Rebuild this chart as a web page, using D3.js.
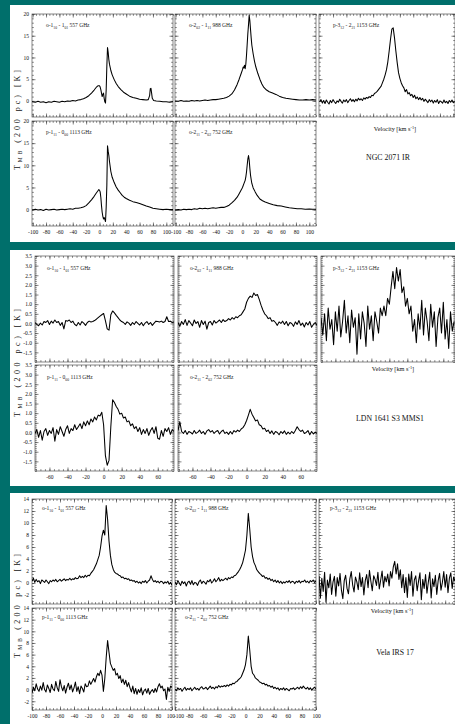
<!DOCTYPE html>
<html><head><meta charset="utf-8">
<script src="https://cdn.jsdelivr.net/npm/d3@7"></script>
<style>body{margin:0;background:#006f6b;overflow:hidden}svg{display:block}</style>
</head><body>
<svg id="c" width="455" height="724"></svg>
<script>
// ---------------- DATA ----------------
const objects = ["NGC 2071 IR", "LDN 1641 S3 MMS1", "Vela IRS 17"];
const transitions = ["o-1_{10} - 1_{01} 557 GHz", "o-2_{02} - 1_{11} 988 GHz", "p-3_{12} - 2_{21} 1153 GHz",
                     "p-1_{11} - 0_{00} 1113 GHz", "o-2_{11} - 2_{02} 752 GHz"];
const yTitle = "T_{MB} (200 pc) [K]";
const xTitle = "Velocity [km s^{-1}]";

const xTicksNGC = [-100,-80,-60,-40,-20,0,20,40,60,80,100];
const yTicksNGC = [0,5,10,15,20];
const xTicksLDN = [-60,-40,-20,0,20,40,60];
const yTicksLDN = [-1.5,-1.0,-0.5,0.0,0.5,1.0,1.5,2.0,2.5,3.0,3.5];
const xTicksVela = [-100,-80,-60,-40,-20,0,20,40,60,80,100];
const yTicksVela = [-2,0,2,4,6,8,10,12,14];

// NGC 2071 IR : [velocity, T] pairs
const ngc557 = [[-101,-0.2],[-96,-0.3],[-92,-0.1],[-88,-0.3],[-84,-0.2],[-80,-0.4],[-76,-0.2],[-72,-0.3],[-68,-0.1],[-64,-0.2],[-60,-0.3],[-56,-0.1],[-52,-0.2],[-48,0],[-44,-0.1],[-40,0.1],[-36,0],[-32,0.2],[-28,0.3],[-24,0.5],[-20,0.8],[-16,1.2],[-12,1.8],[-8,2.5],[-5,3.1],[-2,3.5],[0,3.5],[1,3.2],[2,2.6],[3,1.8],[4,1.0],[5,1.5],[6,1.8],[7,0.6],[8,-0.2],[9,-0.5],[10,2.5],[11,8],[12,12.3],[13,11.2],[14,9.5],[15,8.4],[17,7.0],[19,6.0],[22,4.9],[25,4.0],[28,3.3],[32,2.6],[36,2.0],[40,1.6],[45,1.1],[50,0.8],[55,0.6],[60,0.4],[65,0.3],[70,0.2],[73,0.3],[75,1.2],[76,2.8],[77,2.9],[78,1.8],[79,0.6],[81,0.1],[85,0],[90,-0.1],[95,-0.2],[100,-0.2],[105,-0.3],[110,-0.2]];
const ngc988 = [[-101,0],[-96,-0.1],[-92,0.1],[-88,-0.1],[-84,0],[-80,-0.1],[-76,0.1],[-72,0],[-68,0.1],[-64,0],[-60,0.1],[-56,0.2],[-52,0.1],[-48,0.2],[-44,0.3],[-40,0.3],[-36,0.4],[-32,0.5],[-28,0.6],[-24,0.8],[-20,1.1],[-16,1.6],[-12,2.5],[-8,3.8],[-5,5.0],[-2,6.3],[0,7.2],[1,7.8],[2,7.6],[3,8.2],[4,7.4],[5,8.5],[6,10.5],[7,13],[8,15.5],[9,17.5],[10,19.7],[11,18.5],[12,16.5],[13,14.5],[14,12.8],[16,10.8],[18,9.1],[20,7.8],[23,6.3],[26,5.0],[29,3.9],[32,3.1],[36,2.5],[40,2.1],[45,1.8],[50,1.5],[55,1.1],[60,0.8],[65,0.6],[70,0.5],[75,0.4],[80,0.3],[85,0.2],[90,0.2],[95,0.3],[100,0.2],[105,0.3],[110,0.2]];
const ngc1113 = [[-101,-0.1],[-96,0.1],[-92,-0.1],[-88,0],[-84,-0.2],[-80,0.1],[-76,-0.1],[-72,0],[-68,0.1],[-64,-0.1],[-60,0],[-56,0.1],[-52,0],[-48,0.1],[-44,0.2],[-40,0.1],[-36,0.3],[-32,0.3],[-28,0.4],[-24,0.6],[-20,0.9],[-16,1.5],[-12,2.2],[-8,3.0],[-5,3.7],[-2,4.3],[-1,4.5],[0,4.4],[1,4.0],[2,2.8],[3,0.9],[4,-0.6],[5,-1.5],[6,-2.1],[7,-1.8],[8,-2.2],[9,-2.7],[10,0.5],[11,5.5],[12,14.4],[13,13.2],[14,12.2],[15,10.8],[17,8.6],[19,7.3],[22,6.1],[25,5.1],[28,4.4],[31,3.8],[34,3.2],[37,2.8],[40,2.5],[45,2.1],[50,1.8],[55,1.6],[60,1.4],[65,1.1],[70,0.8],[75,0.6],[80,0.3],[85,0.2],[90,0.1],[95,0],[100,0.1],[105,0],[110,0]];
const ngc752 = [[-101,-0.1],[-96,0],[-92,-0.1],[-88,0.1],[-84,0],[-80,0.1],[-76,0],[-72,0.2],[-68,0.1],[-64,0.3],[-60,0.2],[-56,0.3],[-52,0.2],[-48,0.3],[-44,0.4],[-40,0.3],[-36,0.4],[-32,0.5],[-28,0.5],[-24,0.7],[-20,1.0],[-16,1.5],[-12,2.1],[-8,2.8],[-5,3.6],[-2,4.4],[0,5.0],[2,5.8],[4,6.6],[5,7.4],[6,8.5],[7,10.0],[8,11.4],[9,12.2],[10,11.2],[11,9.3],[12,7.8],[13,6.8],[14,5.9],[16,4.9],[19,4.0],[22,3.2],[26,2.4],[30,2.0],[34,1.7],[40,1.4],[46,1.1],[52,0.9],[58,0.8],[64,0.6],[70,0.4],[76,0.3],[82,0.2],[88,0.2],[94,0.1],[100,0.15],[105,0.1],[110,0.1]];
// NGC 2071 IR 1153 GHz : channels from -100 km/s, 2 km/s wide
const ngc1153Start = -100, ngc1153Width = 2;
const ngc1153 = [-0.2,0.3,-0.5,0.1,-0.6,0.2,-0.3,-0.7,0.1,-0.4,0.3,-0.2,-0.6,0.0,-0.3,0.4,-0.1,-0.5,0.2,-0.2,0.3,-0.4,0.1,0.5,-0.1,0.3,-0.2,0.4,0.0,0.6,0.2,0.5,0.1,0.7,0.4,0.8,
  0.6,1.0,0.8,1.3,1.2,1.7,1.9,2.2,2.6,3.0,3.4,4.2,
  5.0,6.0,7.2,9.0,11.5,14.2,16.5,16.8,14.5,11.5,8.8,6.5,5.2,
  4.2,3.5,3.0,2.1,2.6,1.6,1.9,1.2,1.5,0.8,1.3,0.5,0.9,0.3,0.8,0.2,0.6,-0.1,0.4,0.0,-0.4,0.3,-0.2,0.2,-0.5,0.1,-0.3,0.3,-0.6,0.0,-0.2,-0.5,0.2,-0.4,-0.1,-0.6,0.1,-0.3,0.2,-0.4,-0.2];

// LDN 1641 S3 MMS1 : channels from -76 km/s, 2 km/s wide
const ldnStart = -76, ldnWidth = 2;
const ldn557 = [0.05,-0.05,-0.12,0.02,-0.08,0.10,0.05,0.15,-0.05,0.12,0.02,0.18,0.05,0.10,-0.10,0.05,-0.28,0.15,0.12,0.18,0.05,0.12,-0.05,-0.12,0.05,-0.08,0.10,0.02,-0.10,0.05,0.12,0.08,
  0.10,0.15,0.22,0.30,0.38,0.45,0.52,0.15,-0.28,-0.35,0.45,0.65,0.55,0.42,0.30,0.18,0.10,
  0.05,-0.05,0.08,0.02,-0.10,0.05,-0.05,0.10,0.00,-0.08,0.05,-0.12,0.02,0.10,-0.05,0.05,-0.10,0.02,0.12,0.10,0.08,0.12,0.05,0.10,0.35,0.10,0.12,0.05,0.08];
const ldn988 = [0.05,-0.15,0.10,-0.05,0.20,-0.10,0.15,0.02,-0.12,0.18,0.00,0.10,-0.20,0.15,-0.05,0.12,-0.30,0.05,0.10,-0.08,0.15,0.02,0.10,0.18,0.05,0.20,0.10,
  0.15,0.25,0.18,0.30,0.22,0.35,0.30,0.40,0.45,0.60,0.75,1.10,1.30,1.42,1.35,1.58,1.45,1.50,1.25,0.95,0.70,0.50,0.40,0.25,0.30,0.12,0.15,
  0.05,-0.10,0.08,0.00,0.12,-0.05,0.10,-0.12,0.05,0.00,-0.15,0.08,-0.05,0.15,-0.10,0.02,-0.18,0.05,-0.08,0.10,-0.20,-0.05,0.05,-0.10];
const ldn1153 = [0.3,-0.6,0.5,-0.9,0.8,-0.3,0.2,-1.1,0.6,-0.4,0.9,-0.7,0.1,1.2,-0.5,0.4,-1.0,0.7,-0.2,0.3,-1.6,0.5,-0.8,0.6,0.0,-1.2,0.9,-0.3,0.4,-0.9,0.6,0.1,-0.5,0.8,0.4,
  0.9,0.4,1.3,1.0,1.9,2.7,1.8,2.9,2.2,2.8,1.6,1.9,0.9,1.3,0.5,
  0.9,-0.4,0.2,-1.0,0.5,-0.3,1.2,-0.6,0.8,0.1,-0.9,1.0,-0.2,0.6,-1.2,0.3,0.8,-0.5,1.1,-0.8,0.2,-1.3,0.6,-0.4,0.1];
const ldn1113 = [-0.05,0.15,-0.25,0.10,-0.40,0.05,0.20,-0.15,0.10,-0.05,0.25,-0.45,0.15,-0.10,0.30,0.05,-0.20,0.15,0.35,-0.05,0.20,0.10,0.40,0.15,
  0.30,0.45,0.20,0.55,0.35,0.60,0.40,0.70,0.55,0.80,0.65,0.90,0.85,1.05,
  0.40,-1.20,-1.70,-1.45,0.30,1.70,1.55,1.35,1.20,0.95,1.00,
  0.75,0.80,0.55,0.60,0.35,0.45,0.20,0.30,0.05,0.25,-0.10,0.15,-0.05,0.20,-0.15,0.10,0.25,-0.05,0.30,-0.30,-0.35,0.10,-0.20,0.20,0.05,0.25,-0.10,0.15,0.05];
const ldn752 = [0.10,0.55,0.05,-0.05,0.10,-0.10,0.05,0.00,-0.08,0.10,-0.05,0.02,0.12,-0.05,0.05,-0.10,0.08,0.15,0.02,0.10,-0.05,0.05,0.10,-0.08,0.05,0.12,-0.05,0.02,-0.10,0.05,-0.08,0.10,0.02,0.12,
  0.05,0.18,0.25,0.40,0.62,0.90,1.20,0.95,0.78,0.60,0.65,0.40,0.35,0.18,0.22,
  0.05,0.12,-0.05,0.08,-0.10,0.05,0.00,-0.12,0.05,-0.05,0.08,-0.10,0.02,-0.08,0.05,-0.05,0.10,0.30,0.15,0.05,0.12,-0.05,0.00,0.10,-0.12,0.05,-0.08,0.02,-0.05];

// Vela IRS 17 : channels from -100 km/s, 2 km/s wide
const velaStart = -100, velaWidth = 2;
const vela557 = [0.3,0.8,0.1,0.6,0.2,0.4,-0.1,0.5,0.3,0.1,0.5,0.2,-0.1,0.4,0.2,0.5,0.3,0.6,0.2,0.4,0.6,0.3,0.5,0.7,0.4,0.6,0.5,0.8,0.5,0.7,0.6,0.9,0.7,0.8,1.2,0.9,1.1,0.9,1.3,1.0,
  1.3,1.2,1.6,1.9,2.2,2.7,3.2,3.9,4.6,6.0,7.8,8.8,8.0,12.9,10.6,7.0,4.6,3.1,2.3,1.8,1.6,
  1.5,1.3,1.2,0.9,1.0,0.7,0.8,0.6,0.7,0.4,0.5,0.3,0.4,0.1,0.3,0.0,0.2,-0.1,0.3,0.1,0.4,0.0,0.3,0.5,1.2,0.6,0.2,0.4,0.1,0.3,0.0,0.3,0.2,-0.1,0.2,0.0,0.3,-0.2,0.1,-0.4];
const vela988 = [0.2,-0.3,0.4,0.0,-0.4,0.3,-0.1,0.2,-0.5,0.1,0.3,-0.2,0.4,-0.3,0.1,0.0,-0.4,0.2,0.5,-0.1,0.3,0.1,-0.2,0.4,0.2,0.6,0.0,0.3,0.7,0.2,0.5,0.9,0.3,0.6,0.4,
  0.6,0.8,0.5,0.9,0.7,1.0,0.9,1.2,1.3,1.6,1.9,2.3,2.8,3.4,4.4,5.5,8.0,11.6,9.0,6.0,4.4,3.4,2.9,2.2,1.9,1.6,1.4,1.1,
  1.2,0.8,0.9,0.6,0.8,0.4,0.6,0.2,0.5,0.1,0.4,0.0,0.3,-0.1,0.2,0.0,0.3,0.1,0.4,0.0,0.3,0.2,-0.1,0.3,0.1,0.4,0.0,0.3,0.2,0.5,0.1,0.3,0.0,0.4,0.2,0.5,0.1,0.3];
const vela1153 = [1.2,-2.5,0.8,-1.4,1.8,-3.2,0.5,-0.8,1.5,-1.9,0.2,1.1,-2.2,0.9,-0.5,1.6,-1.2,-2.6,0.4,1.3,-0.9,-1.8,0.7,1.9,-0.3,-1.5,1.0,0.2,-1.1,1.7,-0.6,0.9,-2.0,0.4,1.4,-0.8,2.1,0.3,-1.3,1.2,0.6,-0.4,1.8,-1.0,0.5,2.0,-0.7,1.1,0.2,1.5,
  -0.5,1.9,0.8,2.7,3.6,1.5,3.2,0.6,2.2,-0.8,1.4,
  -1.6,0.9,-2.4,1.5,-0.4,1.9,-2.2,0.5,1.2,-1.3,0.3,1.7,-2.8,0.6,-0.9,1.4,-1.7,0.2,1.8,-2.5,0.7,-0.6,1.3,-1.9,0.4,1.6,-1.2,0.1,1.9,-0.7,1.4,-1.6,0.8,1.7,-0.9,1.0,0.3];
const vela1113 = [-0.6,0.4,-0.2,1.0,0.1,-0.3,0.6,-0.1,1.2,0.0,-0.4,0.8,0.2,-0.5,0.9,0.1,-0.2,1.4,0.3,-0.3,1.7,0.5,-0.2,0.7,-0.6,0.4,1.1,0.0,0.8,-0.4,0.3,1.3,-0.3,0.5,-0.7,0.6,0.2,-0.4,1.0,0.5,
  0.6,1.5,0.9,1.4,1.9,1.3,2.2,2.8,2.4,3.3,2.5,-0.3,1.9,5.5,8.4,6.4,4.5,3.9,3.3,3.6,2.5,
  2.8,1.9,2.4,1.2,1.8,0.9,1.6,0.5,1.2,0.3,-0.4,0.6,-0.7,0.2,-0.8,0.0,-0.5,0.3,-0.9,-0.2,0.1,-0.6,0.2,-0.8,-0.3,0.0,-0.5,0.2,-0.4,0.5,1.0,0.3,0.6,-0.2,0.1,-1.7,0.4,-0.3,0.6,0.4];
const vela752 = [0.1,-0.2,0.3,0.0,0.2,-0.3,0.1,0.4,-0.1,0.2,0.0,0.3,-0.2,0.1,0.4,0.0,0.2,-0.1,0.3,0.5,0.1,0.2,0.4,0.0,0.3,0.6,0.2,0.4,0.1,0.5,0.3,0.7,0.4,0.6,0.5,
  0.7,0.5,0.8,0.6,0.9,0.8,1.1,1.0,1.3,1.4,1.7,1.9,2.2,2.8,3.4,4.3,6.0,9.2,6.8,4.0,2.8,2.5,2.0,1.8,1.6,1.3,1.2,1.0,
  1.1,0.8,0.9,0.6,0.7,0.4,0.6,0.2,0.4,0.1,0.3,-0.1,0.2,0.0,0.3,-0.1,0.2,0.0,-0.2,0.2,0.1,0.3,0.0,0.2,0.4,0.1,0.5,0.2,0.6,0.3,0.1,0.4,0.0,0.3,-0.1,0.2,0.4,0.1];

// ---------------- LAYOUT ----------------
function channels(vals, start, width) { return vals.map((t, i) => [start + i * width, t]); }

const groups = [
  { box: [10, 5, 455, 242], cols: [[32,173],[175,316],[319,455]], rows: [[14,117],[121,226]],
    xdom: [-101,110], xdomR: [-101,102.5], ydom: [-3.7,20], xt: xTicksNGC, yt: yTicksNGC, xMinor: 5, yMinor: 1,
    yfmt: d => String(d), lab: {dx: 14, dy: 13}, name: objects[0], namePos: [388, 160], velPos: [395, 131],
    yTitlePos: [20, 120], yTitleLen: 100, tight: false,
    spectra: [ngc557, ngc988, channels(ngc1153, ngc1153Start, ngc1153Width), ngc1113, ngc752] },
  { box: [10, 250, 455, 486], cols: [[35,174],[178,317],[321,455]], rows: [[256,362],[365,471]],
    xdom: [-76,78], xdomR: [-76,73], ydom: [-2,3.5], xt: xTicksLDN, yt: yTicksLDN, xMinor: 5, yMinor: 0.1,
    yfmt: d => d.toFixed(1), lab: {dx: 12, dy: 14}, name: objects[1], namePos: [390, 421], velPos: [393, 371],
    yTitlePos: [20, 363], yTitleLen: 108, tight: false,
    spectra: [channels(ldn557, ldnStart, ldnWidth), channels(ldn988, ldnStart, ldnWidth), channels(ldn1153, ldnStart, ldnWidth),
              channels(ldn1113, ldnStart, ldnWidth), channels(ldn752, ldnStart, ldnWidth)] },
  { box: [10, 493, 455, 724], cols: [[32,172],[175,316],[319,455]], rows: [[499,604],[608,710]],
    xdom: [-100,100], xdomR: [-100,94], ydom: [-3.5,14], xt: xTicksVela, yt: yTicksVela, xMinor: 5, yMinor: 0.5,
    yfmt: d => String(d), lab: {dx: 10, dy: 11}, name: objects[2], namePos: [395, 655], velPos: [392, 613],
    yTitlePos: [20, 606], yTitleLen: 104, tight: true,
    spectra: [channels(vela557, velaStart, velaWidth), channels(vela988, velaStart, velaWidth), channels(vela1153, velaStart, velaWidth),
              channels(vela1113, velaStart, velaWidth), channels(vela752, velaStart, velaWidth)] }
];
const panelPos = [[0,0],[1,0],[2,0],[0,1],[1,1]];
const FONT = "'Liberation Serif', 'Times New Roman', serif";
const svg = d3.select('#c');

function richText(sel, str, fs) {
  const parts = str.split(/(_\{[^}]*\}|\^\{[^}]*\})/).filter(s => s.length);
  let shift = 0;
  parts.forEach(p => {
    let txt = p, target = 0, size = fs;
    if (p.startsWith('_{')) { txt = p.slice(2, -1); target = fs * 0.3; size = fs * 0.68; }
    else if (p.startsWith('^{')) { txt = p.slice(2, -1); target = -fs * 0.38; size = fs * 0.68; }
    sel.append('tspan').attr('dy', target - shift).attr('font-size', size).text(txt);
    shift = target;
  });
}

function styleAxis(a, fs, labels) {
  a.select('.domain').remove();
  a.selectAll('line').attr('stroke', '#333').attr('stroke-width', 0.6);
  a.attr('font-family', FONT).attr('font-size', fs);
  a.selectAll('text').attr('fill', '#111');
  if (!labels) a.selectAll('text').remove();
  return a;
}

groups.forEach((g, gi) => {
  svg.append('rect').attr('x', g.box[0]).attr('y', g.box[1])
     .attr('width', g.box[2] - g.box[0]).attr('height', g.box[3] - g.box[1]).attr('fill', '#fff');

  g.spectra.forEach((spec, si) => {
    const [c, r] = panelPos[si];
    const col = g.cols[c], row = g.rows[r];
    const xd = c === 2 ? g.xdomR : g.xdom;
    const x = d3.scaleLinear().domain(xd).range(col);
    const y = d3.scaleLinear().domain(g.ydom).range([row[1], row[0]]);
    const pg = svg.append('g');
    const cid = `clip${gi}_${si}`;
    pg.append('clipPath').attr('id', cid).append('rect')
      .attr('x', col[0]).attr('y', row[0]).attr('width', col[1] - col[0]).attr('height', row[1] - row[0]);

    const xMinorVals = d3.range(Math.ceil(xd[0] / g.xMinor) * g.xMinor, xd[1] + 1e-6, g.xMinor);
    const yMinorVals = d3.range(Math.ceil(g.ydom[0] / g.yMinor - 1e-6) * g.yMinor, g.ydom[1] + 1e-6, g.yMinor);
    const showX = r === 1 && c < 2, showY = c === 0;
    // bottom
    styleAxis(pg.append('g').attr('transform', `translate(0,${row[1]})`)
      .call(d3.axisBottom(x).tickValues(xMinorVals).tickSize(-1.8).tickFormat('')), 5.5, false);
    const bx = styleAxis(pg.append('g').attr('transform', `translate(0,${row[1]})`)
      .call(d3.axisBottom(x).tickValues(g.xt).tickSize(-3.5).tickPadding(4).tickFormat(d => String(d))), 5.5, showX);
    if (showX && g.tight) {
      // end labels meet at the shared panel edge: keep them side by side
      const last = g.xt[g.xt.length - 1], first = g.xt[0];
      bx.selectAll('.tick').filter(d => c === 0 && d === last).select('text').attr('text-anchor', 'end').attr('dx', 2.5);
      bx.selectAll('.tick').filter(d => c === 1 && d === first).select('text').attr('text-anchor', 'start').attr('dx', -1.5);
    }
    // top
    styleAxis(pg.append('g').attr('transform', `translate(0,${row[0]})`)
      .call(d3.axisTop(x).tickValues(xMinorVals).tickSize(-1.8)), 5.5, false);
    styleAxis(pg.append('g').attr('transform', `translate(0,${row[0]})`)
      .call(d3.axisTop(x).tickValues(g.xt).tickSize(-3.5)), 5.5, false);
    // left
    styleAxis(pg.append('g').attr('transform', `translate(${col[0]},0)`)
      .call(d3.axisLeft(y).tickValues(yMinorVals).tickSize(-1.8)), 5.5, false);
    styleAxis(pg.append('g').attr('transform', `translate(${col[0]},0)`)
      .call(d3.axisLeft(y).tickValues(g.yt).tickSize(-3.5).tickPadding(3).tickFormat(g.yfmt)), 5.5, showY);
    // right
    styleAxis(pg.append('g').attr('transform', `translate(${col[1]},0)`)
      .call(d3.axisRight(y).tickValues(yMinorVals).tickSize(-1.8)), 5.5, false);
    styleAxis(pg.append('g').attr('transform', `translate(${col[1]},0)`)
      .call(d3.axisRight(y).tickValues(g.yt).tickSize(-3.5)), 5.5, false);

    pg.append('rect').attr('x', col[0]).attr('y', row[0]).attr('width', col[1] - col[0]).attr('height', row[1] - row[0])
      .attr('fill', 'none').attr('stroke', '#555').attr('stroke-width', 0.7);

    pg.append('path').datum(spec).attr('clip-path', `url(#${cid})`)
      .attr('fill', 'none').attr('stroke', '#000').attr('stroke-width', 1.05).attr('stroke-linejoin', 'round')
      .attr('d', d3.line().x(d => x(d[0])).y(d => y(d[1])));

    const t = pg.append('text').attr('x', col[0] + g.lab.dx + (c === 2 && gi === 2 ? 1 : 0)).attr('y', row[0] + g.lab.dy)
      .attr('font-family', FONT).attr('font-size', 5.5).attr('fill', '#222');
    richText(t, transitions[si], 5.5);
  });

  const vt = svg.append('text').attr('x', g.velPos[0]).attr('y', g.velPos[1]).attr('text-anchor', 'middle')
    .attr('font-family', FONT).attr('font-size', 6.3).attr('fill', '#111');
  richText(vt, xTitle, 6.3);

  svg.append('text').attr('x', g.namePos[0]).attr('y', g.namePos[1]).attr('text-anchor', 'middle')
    .attr('font-family', FONT).attr('font-size', 7.8).attr('fill', '#111').text(g.name);

  const yt = svg.append('text').attr('transform', `translate(${g.yTitlePos[0]},${g.yTitlePos[1]}) rotate(-90)`)
    .attr('text-anchor', 'middle').attr('font-family', FONT).attr('font-size', 8).attr('fill', '#111')
    .attr('textLength', g.yTitleLen).attr('lengthAdjust', 'spacing');
  richText(yt, yTitle, 8);
});
</script>
</body></html>
